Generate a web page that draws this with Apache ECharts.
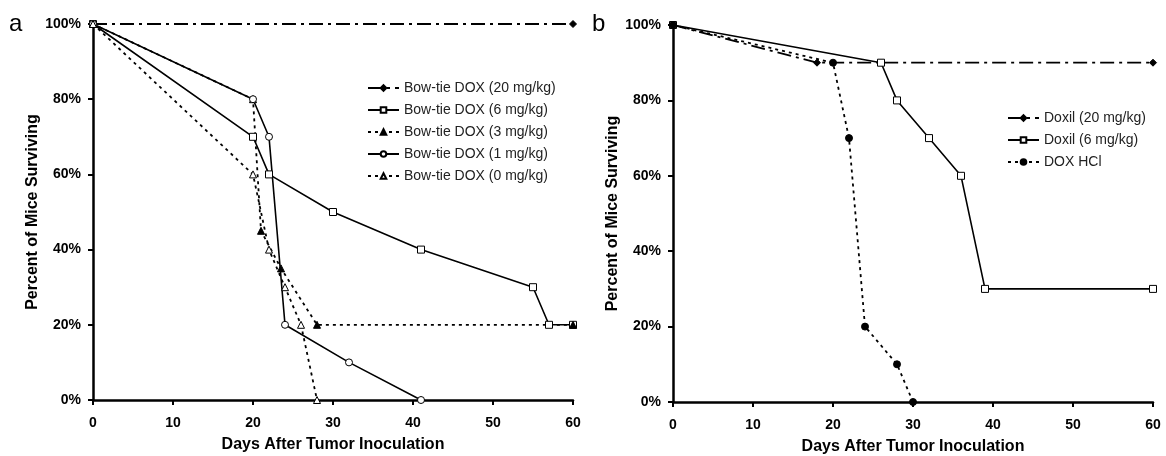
<!DOCTYPE html>
<html>
<head>
<meta charset="utf-8">
<script src="https://cdn.jsdelivr.net/npm/echarts@6/dist/echarts.min.js"></script>
<style>
  html, body { margin: 0; padding: 0; background: #fff; }
  #main { width: 1166px; height: 456px; }
</style>
</head>
<body>
<div id="main"></div>
<script>
// panel a: bow-tie DOX, [day, percent surviving]
var bt20 = [[0, 100], [60, 100]];
var bt6 = [[0, 100], [20, 70], [22, 60], [30, 50], [41, 40], [55, 30], [57, 20], [60, 20]];
var bt3 = [[0, 100], [20, 80], [21, 45], [23.5, 35], [28, 20], [60, 20]];
var bt1 = [[0, 100], [20, 80], [22, 70], [24, 20], [32, 10], [41, 0]];
var bt0 = [[0, 100], [20, 60], [22, 40], [24, 30], [26, 20], [28, 0]];

// panel b: Doxil / free DOX
var dx20 = [[0, 100], [18, 90], [60, 90]];
var dx6 = [[0, 100], [26, 90], [28, 80], [32, 70], [36, 60], [39, 30], [60, 30]];
var doxHcl = [[0, 100], [20, 90], [22, 70], [24, 20], [28, 10], [30, 0]];

var namesA = ['Bow-tie DOX (20 mg/kg)', 'Bow-tie DOX (6 mg/kg)', 'Bow-tie DOX (3 mg/kg)',
              'Bow-tie DOX (1 mg/kg)', 'Bow-tie DOX (0 mg/kg)'];
var namesB = ['Doxil (20 mg/kg)', 'Doxil (6 mg/kg)', 'DOX HCl'];

var xTitle = 'Days After Tumor Inoculation';
var yTitle = 'Percent of Mice Surviving';

var FONT = '"Liberation Sans", Arial, sans-serif';
var dashDot = [14, 5, 3, 5];
var dotted = [3, 4];

function xAxis(idx) {
    return {
        gridIndex: idx, type: 'value', min: 0, max: 60, interval: 10,
        name: xTitle, nameLocation: 'middle', nameGap: 37,
        nameTextStyle: { fontFamily: FONT, fontWeight: 'bold', fontSize: 16, color: '#000' },
        axisLine: { lineStyle: { color: '#000', width: 2.5 } },
        axisTick: { inside: false, length: 5, lineStyle: { color: '#000', width: 2 } },
        axisLabel: { fontFamily: FONT, fontWeight: 'bold', fontSize: 14, color: '#000', margin: 16 },
        splitLine: { show: false }
    };
}
function yAxis(idx) {
    return {
        gridIndex: idx, type: 'value', min: 0, max: 100, interval: 20,
        name: yTitle, nameLocation: 'middle', nameGap: 52, nameRotate: 90,
        nameTextStyle: { fontFamily: FONT, fontWeight: 'bold', fontSize: 16, color: '#000' },
        axisLine: { show: true, lineStyle: { color: '#000', width: 2.5 } },
        axisTick: { show: true, length: 5, lineStyle: { color: '#000', width: 2 } },
        axisLabel: { fontFamily: FONT, fontWeight: 'bold', fontSize: 14, color: '#000', margin: 12,
                     formatter: '{value}%' },
        splitLine: { show: false }
    };
}

function line(name, data, idx, opts) {
    return {
        name: name, type: 'line', data: data,
        xAxisIndex: idx, yAxisIndex: idx,
        symbol: opts.symbol, symbolSize: opts.size || 7,
        showAllSymbol: true, animation: false,
        lineStyle: { color: '#000', width: opts.width || 1.6, type: opts.dash || 'solid' },
        itemStyle: { color: opts.fill, borderColor: '#000', borderWidth: 1 },
        z: opts.z || 2
    };
}

var legendText = { fontFamily: FONT, fontSize: 14, color: '#222', lineHeight: 14 };

var option = {
    backgroundColor: '#fff',
    animation: false,
    grid: [
        { left: 93, right: 593, top: 24, bottom: 56, outerBoundsMode: 'none' },
        { left: 673, right: 13, top: 25, bottom: 54, outerBoundsMode: 'none' }
    ],
    xAxis: [xAxis(0), xAxis(1)],
    yAxis: [yAxis(0), yAxis(1)],
    legend: [
        { data: namesA, orient: 'vertical', left: 367, top: 81, padding: 0, itemWidth: 31, itemHeight: 7,
          itemGap: 8, textStyle: legendText },
        { data: namesB, orient: 'vertical', left: 1007, top: 111, padding: 0, itemWidth: 31, itemHeight: 7,
          itemGap: 8, textStyle: legendText }
    ],
    graphic: [
        { type: 'text', left: 9, top: 12, style: { text: 'a', fontFamily: FONT, fontSize: 24, fill: '#000' } },
        { type: 'text', left: 592, top: 12, style: { text: 'b', fontFamily: FONT, fontSize: 24, fill: '#000' } }
    ],
    series: [
        line(namesA[0], bt20, 0, { symbol: 'diamond', fill: '#000', size: 7, dash: dashDot, width: 1.8 }),
        line(namesA[1], bt6, 0, { symbol: 'rect', fill: '#fff', size: 7 }),
        line(namesA[2], bt3, 0, { symbol: 'triangle', fill: '#000', size: 7, dash: dotted, width: 1.8 }),
        line(namesA[3], bt1, 0, { symbol: 'circle', fill: '#fff', size: 7 }),
        line(namesA[4], bt0, 0, { symbol: 'triangle', fill: '#fff', size: 7, dash: dotted, width: 1.8 }),

        line(namesB[0], dx20, 1, { symbol: 'diamond', fill: '#000', size: 7, dash: dashDot, width: 1.8 }),
        line(namesB[1], dx6, 1, { symbol: 'rect', fill: '#fff', size: 7 }),
        line(namesB[2], doxHcl, 1, { symbol: 'circle', fill: '#000', size: 7, dash: dotted, width: 1.8 })
    ]
};

var chart = echarts.init(document.getElementById('main'), null, { renderer: 'canvas' });
chart.setOption(option);
</script>
</body>
</html>
